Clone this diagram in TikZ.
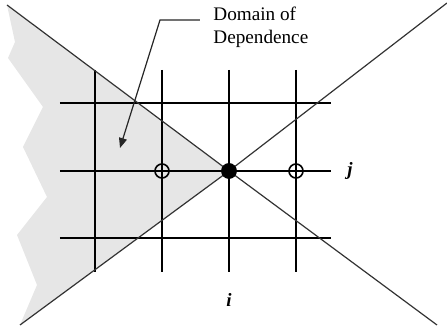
\documentclass[tikz,border=0pt]{standalone}
\usepackage{fontspec}
\setmainfont{Liberation Serif}
\usepackage{tikz}
\usetikzlibrary{arrows.meta, positioning, calc}
\definecolor{domaingray}{HTML}{E6E6E6}
\tikzset{
    gridline/.style={draw=black, line width=0.8pt},
    rayline/.style={draw=black!80, line width=0.6pt},
    opendot/.style={circle, draw=black, line width=0.8pt, fill=none, minimum size=7pt, inner sep=0pt},
    fulldot/.style={circle, draw=black, fill=black, minimum size=7.5pt, inner sep=0pt},
    labeltext/.style={align=left, font=\fontsize{9.6}{11.5}\selectfont, inner sep=0pt},
    idxtext/.style={font=\fontsize{9.4}{11}\selectfont\bfseries\itshape, inner sep=0pt},
    leader/.style={-{Triangle[length=5pt, width=4pt]}, line width=0.6pt, draw=black!85}
}

\begin{document}
\begin{tikzpicture}[x=0.5pt, y=-0.5pt]
                \useasboundingbox (0,0) rectangle (447,331);
                % shaded domain of dependence
                \fill[domaingray] (7,5) -- (229,171) -- (20,325) -- (37,285) -- (17,235) -- (47,197)
                    -- (23,147) -- (43,107) -- (8,58) -- (15,42) -- cycle;
                % grid
                \foreach \x in {95,162,229,296}
                    \draw[gridline] (\x,70) -- (\x,272);
                \foreach \y in {103,171,238}
                    \draw[gridline] (60,\y) -- (331,\y);
                % characteristics through the point
                \coordinate (ctr) at (229,171);
                \draw[rayline] (7,5) -- (ctr) -- (437,325);
                \draw[rayline] (20,325) -- (ctr) -- (447,3);
                % points
                \node[fulldot] (pij) at (ctr) {};
                \node[opendot] (pleft) at (162,171) {};
                \node[opendot] (pright) at (296,171) {};
                % labels
                \node[labeltext, anchor=west] (domain) at (213,27) {Domain of\\Dependence};
                \coordinate (bend) at (160,20);
                \coordinate (tip) at (120,148);
                \draw[leader] ($(domain.west |- bend)+(-13,0)$) -- (bend) -- (tip);
                \node[idxtext] (jlab) at (350,171) {j};
                \node[idxtext] (ilab) at (229,300) {i};
            \end{tikzpicture}
\end{document}
